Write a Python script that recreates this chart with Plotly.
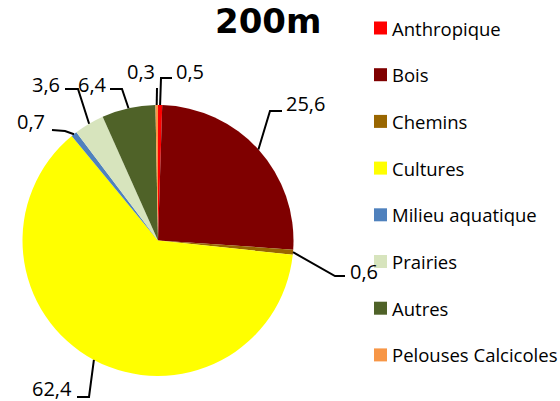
import math
import plotly.graph_objects as go

# ---- data ----
categories = ["Anthropique", "Bois", "Chemins", "Cultures", "Milieu aquatique",
              "Prairies", "Autres", "Pelouses Calcicoles"]
values = [0.5, 25.6, 0.6, 62.4, 0.7, 3.6, 6.4, 0.3]
colors = ["#FF0000", "#7F0000", "#996600", "#FFFF00", "#4F81BD",
          "#D7E4BD", "#4F6228", "#F79646"]
title_text = "200m"

# ---- layout (pixel geometry) ----
W, H = 560, 401
CX, CY, R = 158.0, 240.5, 135.5

# label placement per slice: elbow point, line end, text anchor (x, y, xanchor)
label_layout = [
    ((161, 78), (172, 78), (174, 71, "left")),
    ((270, 111), (282, 111), (284, 103, "left")),
    ((335, 276), (345, 276), (348, 271, "left")),
    ((89, 397), (77, 397), (74, 388, "right")),
    ((65, 131), (52, 130), (47, 121, "right")),
    ((78, 89), (65, 89), (62, 84, "right")),
    ((122, 89), (110, 89), (109, 84, "right")),
    ((157, 88), (157, 88), (157, 71, "right")),
]

fig = go.Figure()
fig.add_trace(go.Pie(
    labels=categories, values=values, sort=False, direction="clockwise",
    rotation=0, textinfo="none", hoverinfo="label+value",
    marker=dict(colors=colors, line=dict(width=0)),
    domain=dict(x=[(CX - R) / W, (CX + R) / W],
                y=[1 - (CY + R) / H, 1 - (CY - R) / H]),
    showlegend=False,
))

shapes = []
annotations = []
total = sum(values)
cum = 0.0
for i, v in enumerate(values):
    mid = (cum + v / 2) / total * 2 * math.pi
    cum += v
    ex = CX + R * math.sin(mid)
    ey = CY - R * math.cos(mid)
    (bx, by), (tx, ty), (ax, ay, anc) = label_layout[i]
    shapes.append(dict(type="path", xref="x", yref="y",
                       path=f"M {ex:.1f},{ey:.1f} L {bx},{by} L {tx},{ty}",
                       line=dict(color="black", width=2)))
    annotations.append(dict(x=ax, y=ay, xref="x", yref="y", xanchor=anc,
                            yanchor="middle", showarrow=False,
                            text=f"{v:.1f}".replace(".", ","),
                            font=dict(family="Open Sans", size=20, color="black")))

# manual legend
for i, (c, col) in enumerate(zip(categories, colors)):
    yc = 28 + 46.7 * i
    shapes.append(dict(type="rect", xref="x", yref="y", x0=374, x1=387,
                       y0=yc - 6.5, y1=yc + 6.5, fillcolor=col, line=dict(width=0)))
    annotations.append(dict(x=390, y=yc, xref="x", yref="y", xanchor="left",
                            yanchor="middle", showarrow=False, text=c,
                            font=dict(family="Open Sans", size=18.5, color="black")))

annotations.append(dict(x=268, y=21, xref="x", yref="y", xanchor="center",
                        yanchor="middle", showarrow=False, text=f"<b>{title_text}</b>",
                        font=dict(family="DejaVu Sans", size=34, color="black")))

fig.update_layout(
    width=W, height=H, margin=dict(l=0, r=0, t=0, b=0),
    paper_bgcolor="white", plot_bgcolor="rgba(0,0,0,0)",
    xaxis=dict(range=[0, W], visible=False, fixedrange=True),
    yaxis=dict(range=[H, 0], visible=False, fixedrange=True),
    shapes=shapes, annotations=annotations, showlegend=False,
)

fig.write_html("out.html", config={"displayModeBar": False},
               post_script="document.body.style.margin='0';"
                           "document.body.style.overflow='hidden';")
